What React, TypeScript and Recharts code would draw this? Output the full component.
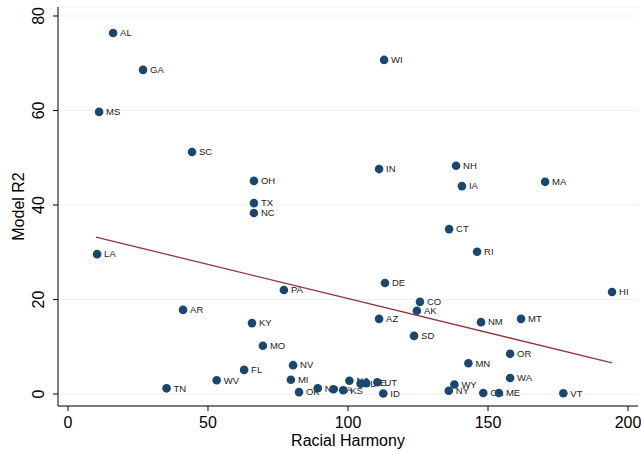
import React from "react";
import { ScatterChart, Scatter, XAxis, YAxis, CartesianGrid, Label } from "recharts";

const states = ["AL","GA","MS","SC","OH","TX","NC","LA","AR","PA","KY","MO","FL","WV","TN","NV","MI","OK","ND","VA","KS","NJ","IL","NE","UT","ID","WI","IN","NH","IA","MA","CT","RI","DE","HI","CO","AK","AZ","NM","MT","SD","MN","OR","WA","WY","NY","CA","ME","VT"];
const harmony = [16.1,26.8,11.1,44.3,66.4,66.4,66.4,10.4,41.1,77.1,65.7,69.6,62.9,53.1,35.2,80.4,79.6,82.5,89.2,94.8,98.3,100.5,104.5,106.5,110.5,112.6,112.9,111.1,138.6,140.7,170.4,136.1,146.1,113.2,194.3,125.7,124.6,111.1,147.5,161.8,123.6,143.0,157.9,157.9,138.0,136.0,148.3,153.9,176.9];
const r2 = [76.4,68.6,59.7,51.2,45.1,40.4,38.3,29.6,17.8,22.0,15.0,10.2,5.1,2.9,1.2,6.1,3.0,0.4,1.2,1.0,0.8,2.8,2.2,2.3,2.5,0.1,70.7,47.6,48.3,44.0,44.9,34.9,30.1,23.5,21.6,19.5,17.6,15.9,15.2,15.9,12.3,6.5,8.5,3.4,2.0,0.7,0.2,0.2,0.15];
const fitX = [10.0, 194.3];
const fitY = [33.2, 6.6];
const xTicks = [0, 50, 100, 150, 200];
const yTicks = [0, 20, 40, 60, 80];

const points = states.map((s, i) => ({ x: harmony[i], y: r2[i], name: s }));
const fit = fitX.map((x, i) => ({ x, y: fitY[i] }));

const FONT = "'Liberation Sans', Arial, Helvetica, sans-serif";
const NAVY = "#1a476f";

const Dot = (props: any) => {
  const { cx, cy, payload } = props;
  return (
    <g>
      <circle cx={cx} cy={cy} r={4.3} fill={NAVY} />
      <text x={cx + 7} y={cy} dy="0.35em" fontSize={9.5} fontFamily={FONT} fill="#222">{payload.name}</text>
    </g>
  );
};

const YTick = (props: any) => {
  const { x, y, payload } = props;
  return (
    <text x={0} y={0} transform={`translate(${x - 7},${y}) rotate(-90)`} textAnchor="middle" fontSize={16} fontFamily={FONT} fill="#000">{payload.value}</text>
  );
};

const XTick = (props: any) => {
  const { x, y, payload } = props;
  return (
    <text x={x} y={y + 15} textAnchor="middle" fontSize={16} fontFamily={FONT} fill="#000">{payload.value}</text>
  );
};

export default function App() {
  return (
    <div style={{ position: "absolute", left: 0, top: 0, background: "#fff" }}>
      <ScatterChart width={641} height={454} margin={{ top: 7, right: 3, left: 0, bottom: 0 }}>
        <CartesianGrid horizontal={true} vertical={false} stroke="#eaf2f3" strokeWidth={1.2} />
        <XAxis type="number" dataKey="x" domain={[-3.57, 203.57]} ticks={xTicks} height={48}
          axisLine={{ stroke: "#000", strokeWidth: 1 }} tickLine={{ stroke: "#000" }} tickSize={5}
          tick={<XTick />} interval={0} allowDataOverflow>
          <Label content={() => (
            <text x={348} y={446} textAnchor="middle" fontSize={16} fontFamily={FONT} fill="#000">Racial Harmony</text>
          )} />
        </XAxis>
        <YAxis type="number" dataKey="y" domain={[-2.54, 81.9]} ticks={yTicks} width={58}
          axisLine={{ stroke: "#000", strokeWidth: 1 }} tickLine={{ stroke: "#000" }} tickSize={5}
          tick={<YTick />} interval={0} allowDataOverflow>
          <Label content={() => (
            <text x={0} y={0} transform="translate(24,206.5) rotate(-90)" textAnchor="middle" fontSize={16} fontFamily={FONT} fill="#000">Model R2</text>
          )} />
        </YAxis>
        <Scatter data={points} shape={<Dot />} isAnimationActive={false} />
        <Scatter data={fit} line={{ stroke: "#90353b", strokeWidth: 1.3 }} shape={() => <g />} isAnimationActive={false} />
      </ScatterChart>
    </div>
  );
}
